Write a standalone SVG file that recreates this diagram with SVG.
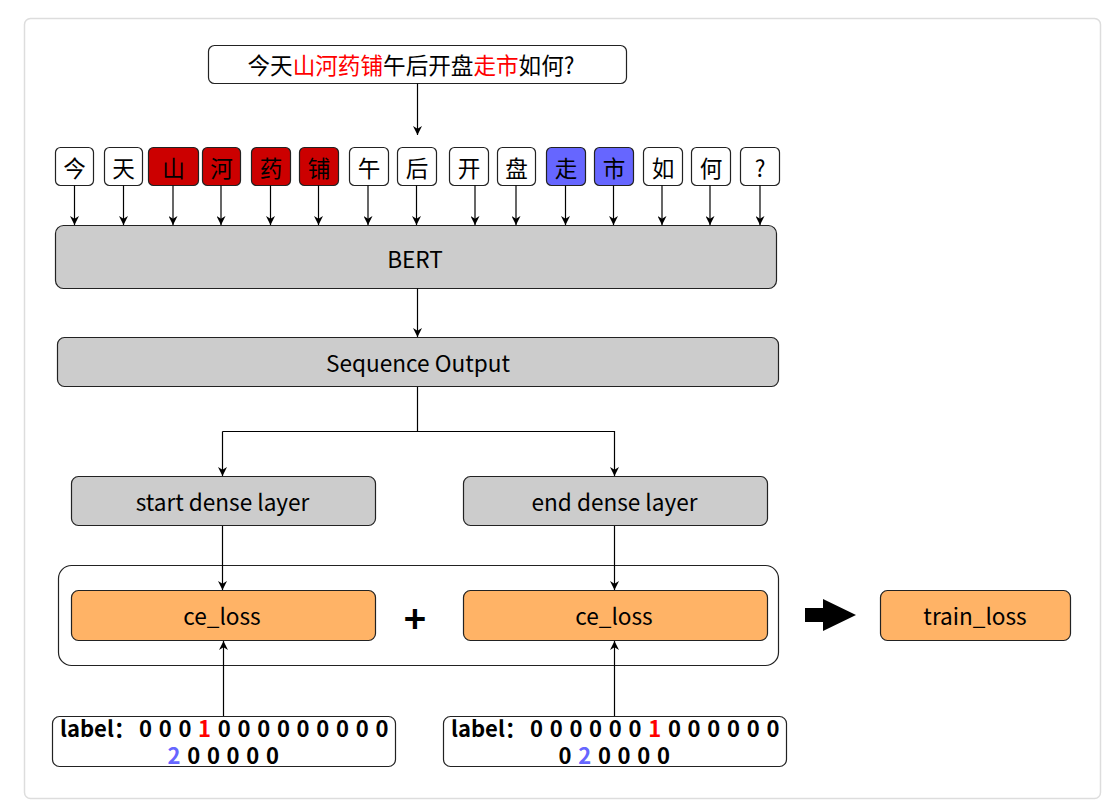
<svg xmlns="http://www.w3.org/2000/svg" width="1116" height="812" viewBox="0 0 1116 812">
<defs>
<marker id="ah" viewBox="0 0 10 10" refX="10" refY="5" markerWidth="9" markerHeight="9" markerUnits="userSpaceOnUse" orient="auto">
<path d="M0,0 L10,5 L0,10 L3,5 z" fill="#000"/>
</marker>
<style>
text{font-family:"Noto Sans CJK SC","Noto Sans",sans-serif;font-size:22.6px;fill:#000;}
.c{text-anchor:middle;dominant-baseline:central;}
.box{stroke:#222;stroke-width:1.2;}
.w{fill:#fff;}
.r{fill:#cc0000;}
.b{fill:#6666ff;}
.g{fill:#cccccc;}
.o{fill:#ffb366;}
.ln{fill:none;stroke:#000;stroke-width:1.2;}
.arr{fill:none;stroke:#000;stroke-width:1.2;marker-end:url(#ah);}
.lb{font-weight:bold;font-size:22px;}
</style>
</defs>
<rect x="24.5" y="18.5" width="1076" height="780" rx="6" fill="#fff" stroke="#dddddd" stroke-width="1.5"/>

<g id="sentence">
<rect class="box w" x="208.5" y="45.5" width="418" height="38" rx="6"/>
<text class="c" x="411" y="64">今天<tspan fill="#ff0000">山河药铺</tspan>午后开盘<tspan fill="#ff0000">走市</tspan>如何?</text>
</g>

<g id="tokens">
<g id="t1"><rect class="box w" x="55.5" y="147.5" width="38" height="38" rx="5"/><text class="c" x="74.5" y="167">今</text></g>
<g id="t2"><rect class="box w" x="104.5" y="147.5" width="38" height="38" rx="5"/><text class="c" x="123.5" y="167">天</text></g>
<g id="t3"><rect class="box r" x="148.5" y="147.5" width="50" height="38" rx="5"/><text class="c" x="173.5" y="167">山</text></g>
<g id="t4"><rect class="box r" x="202.5" y="147.5" width="38" height="38" rx="5"/><text class="c" x="221.5" y="167">河</text></g>
<g id="t5"><rect class="box r" x="251.5" y="147.5" width="39" height="38" rx="5"/><text class="c" x="271" y="167">药</text></g>
<g id="t6"><rect class="box r" x="299.5" y="147.5" width="39" height="38" rx="5"/><text class="c" x="319" y="167">铺</text></g>
<g id="t7"><rect class="box w" x="349.5" y="147.5" width="39" height="38" rx="5"/><text class="c" x="369" y="167">午</text></g>
<g id="t8"><rect class="box w" x="397.5" y="147.5" width="39" height="38" rx="5"/><text class="c" x="417" y="167">后</text></g>
<g id="t9"><rect class="box w" x="449.5" y="147.5" width="39" height="38" rx="5"/><text class="c" x="469" y="167">开</text></g>
<g id="t10"><rect class="box w" x="497.5" y="147.5" width="38" height="38" rx="5"/><text class="c" x="516.5" y="167">盘</text></g>
<g id="t11"><rect class="box b" x="546.5" y="147.5" width="39" height="38" rx="5"/><text class="c" x="566" y="167">走</text></g>
<g id="t12"><rect class="box b" x="594.5" y="147.5" width="39" height="38" rx="5"/><text class="c" x="614" y="167">市</text></g>
<g id="t13"><rect class="box w" x="643.5" y="147.5" width="39" height="38" rx="5"/><text class="c" x="663" y="167">如</text></g>
<g id="t14"><rect class="box w" x="691.5" y="147.5" width="39" height="38" rx="5"/><text class="c" x="711" y="167">何</text></g>
<g id="t15"><rect class="box w" x="740.5" y="147.5" width="39" height="38" rx="5"/><text class="c" x="760" y="167">?</text></g>
</g>

<g id="bert"><rect class="box g" x="55.5" y="225.5" width="721" height="63" rx="8"/><text class="c" x="415" y="258">BERT</text></g>
<g id="seq"><rect class="box g" x="57.5" y="337.5" width="721" height="49" rx="7"/><text class="c" x="418" y="362">Sequence Output</text></g>
<g id="start"><rect class="box g" x="71.5" y="476.5" width="304" height="49" rx="7"/><text class="c" x="222.5" y="501">start dense layer</text></g>
<g id="end"><rect class="box g" x="463.5" y="476.5" width="304" height="49" rx="7"/><text class="c" x="614.5" y="501">end dense layer</text></g>

<g id="lossgroup">
<rect fill="#fff" stroke="#222" stroke-width="1.2" x="58.5" y="565.5" width="720" height="100" rx="13"/>
</g>
<g id="ce1"><rect class="box o" x="71.5" y="590.5" width="304" height="50" rx="7"/><text class="c" x="222" y="615">ce_loss</text></g>
<g id="ce2"><rect class="box o" x="463.5" y="590.5" width="304" height="50" rx="7"/><text class="c" x="614" y="615">ce_loss</text></g>
<g id="plus"><text class="c" x="415" y="616" style="font-size:38px;font-weight:bold">+</text></g>
<g id="train"><rect class="box o" x="880.5" y="590.5" width="190" height="50" rx="7"/><text class="c" x="975" y="615">train_loss</text></g>

<g id="label1">
<rect class="box w" x="52.5" y="716.5" width="343" height="50" rx="7"/>
<text class="lb" x="60" y="737">label：</text>
<text class="lb" style="text-anchor:middle"><tspan x="145.5 165.2 184.9" y="737">000</tspan><tspan x="204.6" y="737" fill="#ff0000">1</tspan><tspan x="224.3 244 263.7 283.4 303.1 322.8 342.5 362.2 381.9" y="737">000000000</tspan></text>
<text class="lb" style="text-anchor:middle"><tspan x="174" y="764" fill="#6666ff">2</tspan><tspan x="193.7 213.4 233.1 252.8 272.5" y="764">00000</tspan></text>
</g>

<g id="label2">
<rect class="box w" x="443.5" y="716.5" width="343" height="50" rx="7"/>
<text class="lb" x="451" y="737">label：</text>
<text class="lb" style="text-anchor:middle"><tspan x="536.5 556.2 575.9 595.6 615.3 635" y="737">000000</tspan><tspan x="654.7" y="737" fill="#ff0000">1</tspan><tspan x="674.4 694.1 713.8 733.5 753.2 772.9" y="737">000000</tspan></text>
<text class="lb" style="text-anchor:middle"><tspan x="565" y="764">0</tspan><tspan x="584.7" y="764" fill="#6666ff">2</tspan><tspan x="604.4 624.1 643.8 663.5" y="764">0000</tspan></text>
</g>

<g id="connectors">
<path class="arr" d="M417.5,83.5 V135"/>
<path class="arr" d="M74.5,185.5 V225"/>
<path class="arr" d="M123.5,185.5 V225"/>
<path class="arr" d="M173,185.5 V225"/>
<path class="arr" d="M221,185.5 V225"/>
<path class="arr" d="M270.5,185.5 V225"/>
<path class="arr" d="M318.5,185.5 V225"/>
<path class="arr" d="M368,185.5 V225"/>
<path class="arr" d="M416.5,185.5 V225"/>
<path class="arr" d="M475,185.5 V225"/>
<path class="arr" d="M516,185.5 V225"/>
<path class="arr" d="M565.5,185.5 V225"/>
<path class="arr" d="M613.5,185.5 V225"/>
<path class="arr" d="M662,185.5 V225"/>
<path class="arr" d="M710,185.5 V225"/>
<path class="arr" d="M760,185.5 V225"/>
<path class="arr" d="M417.5,288.5 V337"/>
<path class="ln" d="M417.5,387 V431.5 H222.5"/>
<path class="arr" d="M222.5,431.5 V476"/>
<path class="arr" d="M417.5,431.5 H614.5 V476"/>
<path class="arr" d="M222.5,526 V590"/>
<path class="arr" d="M614.5,526 V590"/>
<path class="arr" d="M223.5,716 V641"/>
<path class="arr" d="M614.5,716 V641"/>
<path d="M805,608 H823 V599 L856,615 L823,631 V622 H805 z" fill="#000"/>
</g>
</svg>
